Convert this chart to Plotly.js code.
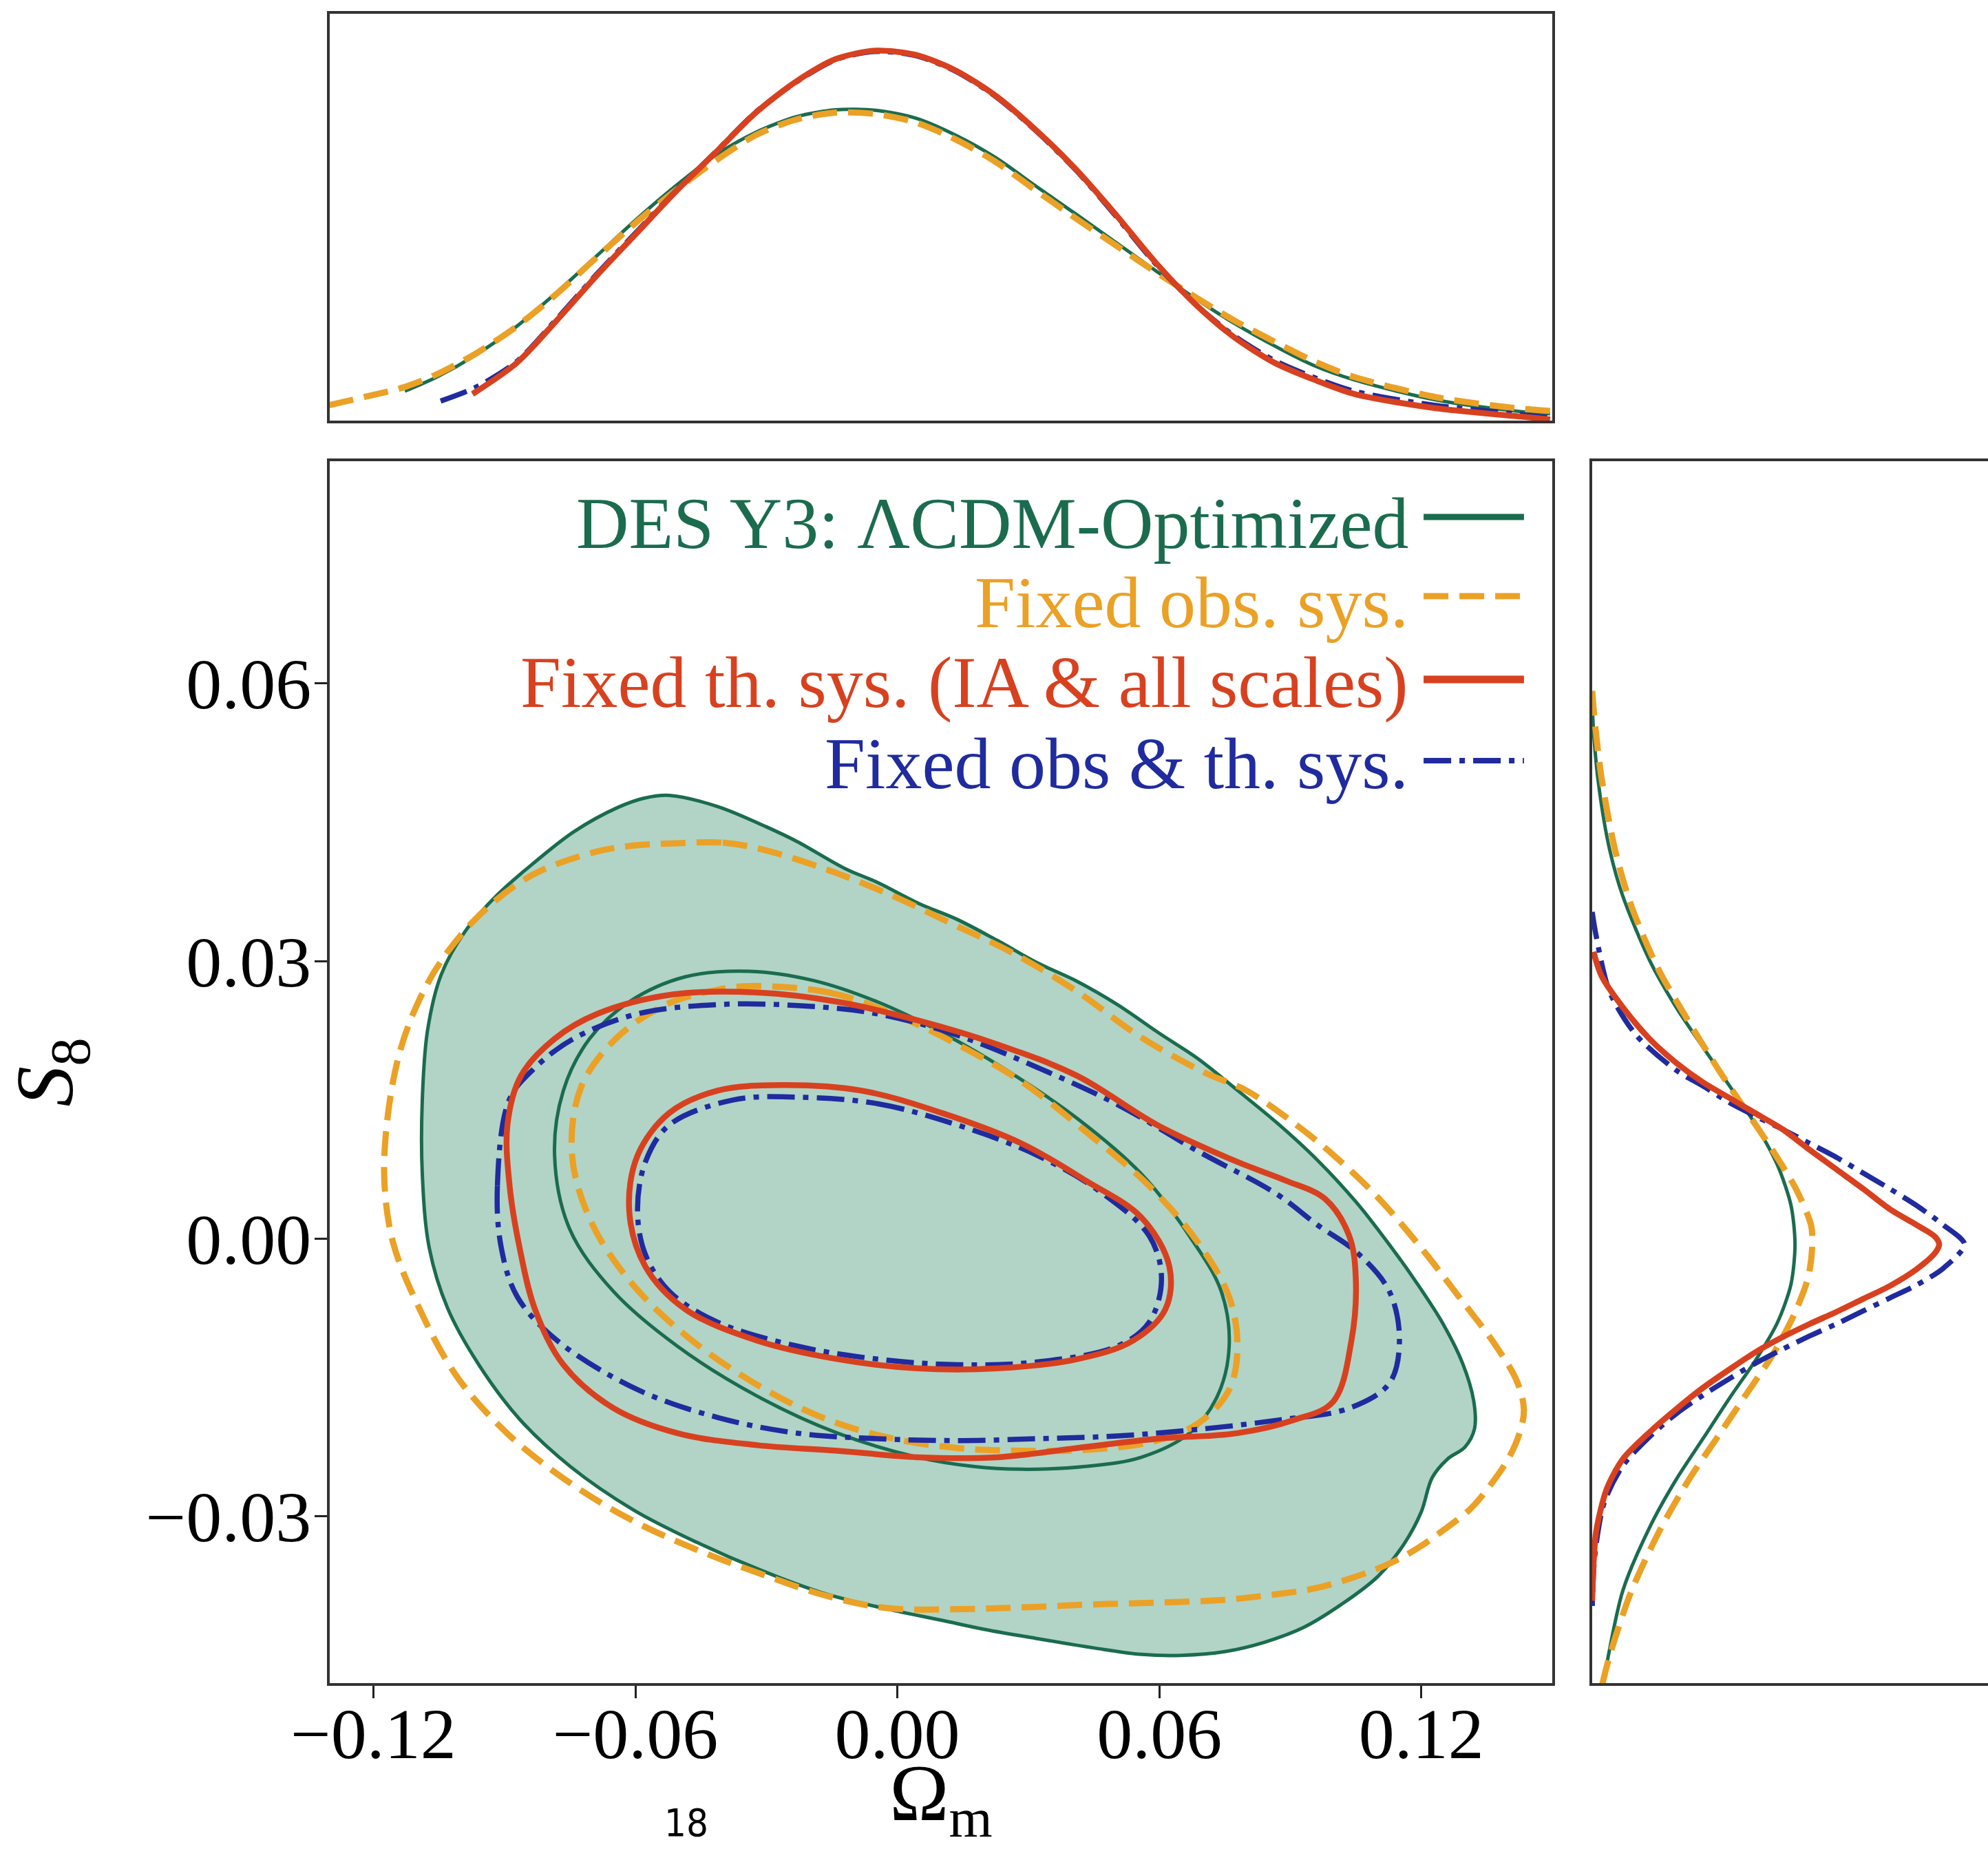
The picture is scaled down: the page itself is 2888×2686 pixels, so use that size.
<!DOCTYPE html>
<html>
<head>
<meta charset="utf-8">
<script src="https://cdn.plot.ly/plotly-3.0.1.min.js"></script>
<style>html,body{margin:0;padding:0;background:#fff;}</style>
</head>
<body>
<div id="chart" style="width:2888px;height:2686px;"></div>
<script>
// ---------- tick labels ----------
const xTickVals = [-0.12, -0.06, 0.00, 0.06, 0.12];
const xTickText = ['−0.12', '−0.06', '0.00', '0.06', '0.12'];
const yTickVals = [-0.03, 0.00, 0.03, 0.06];
const yTickText = ['−0.03', '0.00', '0.03', '0.06'];

// ---------- legend labels ----------
const seriesNames = ['DES Y3: ΛCDM-Optimized', 'Fixed obs. sys.', 'Fixed th. sys. (IA &amp; all scales)', 'Fixed obs &amp; th. sys.'];

// ---------- 2D contours (Omega_m, S8) ----------
// DES Y3 LCDM-Optimized, 95% (filled) and 68%
const desOuterX = [-0.0522,-0.0412,-0.0300,-0.0229,-0.0120,-0.0046,0.0050,0.0137,0.0230,0.0321,0.0412,0.0504,0.0600,0.0687,0.0780,0.0870,0.0962,0.1050,0.1120,0.1190,0.1250,0.1295,0.1320,0.1322,0.1300,0.1260,0.1225,0.1200,0.1160,0.1100,0.1017,0.0930,0.0840,0.0750,0.0650,0.0560,0.0450,0.0321,0.0200,0.0100,-0.0023,-0.0168,-0.0313,-0.0459,-0.0604,-0.0749,-0.0865,-0.0960,-0.1030,-0.1072,-0.1088,-0.1088,-0.1076,-0.1045,-0.0990,-0.0915,-0.0830,-0.0740,-0.0640,-0.0580];
const desOuterY = [0.0479,0.0467,0.0445,0.0429,0.0400,0.0385,0.0362,0.0345,0.0322,0.0298,0.0278,0.0253,0.0222,0.0195,0.0160,0.0125,0.0085,0.0040,-0.0002,-0.0048,-0.0092,-0.0135,-0.0175,-0.0205,-0.0225,-0.0238,-0.0258,-0.0295,-0.0330,-0.0365,-0.0395,-0.0420,-0.0436,-0.0446,-0.0450,-0.0449,-0.0442,-0.0432,-0.0422,-0.0412,-0.0400,-0.0383,-0.0358,-0.0328,-0.0293,-0.0246,-0.0195,-0.0135,-0.0075,-0.0010,0.0070,0.0150,0.0225,0.0285,0.0332,0.0372,0.0407,0.0440,0.0466,0.0476];
const desInnerX = [-0.0339,-0.0192,-0.0046,0.0101,0.0247,0.0412,0.0559,0.0669,0.0742,0.0760,0.0733,0.0669,0.0559,0.0431,0.0284,0.0174,0.0046,-0.0137,-0.0321,-0.0504,-0.0650,-0.0750,-0.0785,-0.0765,-0.0705,-0.0614,-0.0486];
const desInnerY = [0.0289,0.0279,0.0256,0.0223,0.0183,0.0130,0.0070,0.0003,-0.0057,-0.0116,-0.0170,-0.0210,-0.0236,-0.0246,-0.0249,-0.0246,-0.0236,-0.0210,-0.0170,-0.0116,-0.0057,0.0010,0.0090,0.0160,0.0216,0.0256,0.0283];

// Fixed obs. sys.
const obsOuterX = [-0.0517,-0.0400,-0.0313,-0.0168,-0.0023,0.0122,0.0267,0.0412,0.0557,0.0702,0.0800,0.0900,0.1000,0.1100,0.1200,0.1290,0.1370,0.1420,0.1435,0.1425,0.1400,0.1360,0.1312,0.1250,0.1196,0.1140,0.1080,0.0963,0.0850,0.0750,0.0600,0.0450,0.0300,0.0150,-0.0023,-0.0168,-0.0313,-0.0459,-0.0604,-0.0749,-0.0894,-0.1010,-0.1097,-0.1155,-0.1175,-0.1167,-0.1140,-0.1097,-0.1039,-0.0952,-0.0836,-0.0691,-0.0600];
const obsOuterY = [0.0427,0.0428,0.0421,0.0400,0.0373,0.0341,0.0308,0.0267,0.0218,0.0180,0.0160,0.0128,0.0090,0.0045,-0.0010,-0.0065,-0.0115,-0.0155,-0.0185,-0.0210,-0.0237,-0.0265,-0.0292,-0.0315,-0.0333,-0.0348,-0.0360,-0.0377,-0.0385,-0.0390,-0.0393,-0.0395,-0.0398,-0.0400,-0.0399,-0.0385,-0.0362,-0.0336,-0.0305,-0.0264,-0.0210,-0.0148,-0.0073,-0.0004,0.0064,0.0133,0.0201,0.0256,0.0304,0.0352,0.0393,0.0418,0.0425];
const obsInnerX = [-0.0339,-0.0156,-0.0009,0.0137,0.0284,0.0431,0.0577,0.0687,0.0760,0.0779,0.0760,0.0687,0.0577,0.0431,0.0284,0.0137,-0.0009,-0.0156,-0.0302,-0.0470,-0.0605,-0.0700,-0.0745,-0.0725,-0.0645,-0.0530,-0.0412];
const obsInnerY = [0.0273,0.0266,0.0243,0.0210,0.0170,0.0116,0.0057,-0.0003,-0.0063,-0.0116,-0.0163,-0.0200,-0.0220,-0.0228,-0.0229,-0.0226,-0.0216,-0.0196,-0.0163,-0.0110,-0.0050,0.0017,0.0090,0.0163,0.0216,0.0253,0.0269];

// Fixed th. sys. (IA & all scales)
const thOuterX = [-0.0513,-0.0321,-0.0137,0.0046,0.0229,0.0412,0.0595,0.0779,0.0889,0.0980,0.1035,0.1050,0.1040,0.0998,0.0907,0.0779,0.0595,0.0412,0.0229,0.0046,-0.0137,-0.0321,-0.0504,-0.0650,-0.0765,-0.0830,-0.0865,-0.0888,-0.0893,-0.0862,-0.0785,-0.0687];
const thOuterY = [0.0264,0.0266,0.0256,0.0236,0.0210,0.0176,0.0123,0.0083,0.0063,0.0043,0.0003,-0.0043,-0.0110,-0.0176,-0.0196,-0.0210,-0.0216,-0.0226,-0.0236,-0.0236,-0.0229,-0.0223,-0.0210,-0.0183,-0.0136,-0.0076,-0.0010,0.0057,0.0123,0.0176,0.0216,0.0243];
const thInnerX = [-0.0266,-0.0082,0.0101,0.0284,0.0431,0.0559,0.0623,0.0614,0.0540,0.0412,0.0229,0.0046,-0.0137,-0.0321,-0.0486,-0.0577,-0.0614,-0.0595,-0.0522,-0.0412];
const thInnerY = [0.0166,0.0160,0.0136,0.0103,0.0063,0.0023,-0.0030,-0.0076,-0.0110,-0.0130,-0.0140,-0.0140,-0.0130,-0.0110,-0.0076,-0.0030,0.0030,0.0090,0.0136,0.0160];

// Fixed obs & th. sys.
const bothOuterX = [-0.0889,-0.0916,-0.0907,-0.0870,-0.0779,-0.0595,-0.0412,-0.0229,-0.0046,0.0137,0.0321,0.0504,0.0687,0.0870,0.1035,0.1127,0.1150,0.1127,0.1053,0.0962,0.0870,0.0687,0.0504,0.0321,0.0137,-0.0046,-0.0229,-0.0412,-0.0595,-0.0742,-0.0834];
const bothOuterY = [0.0150,0.0057,-0.0010,-0.0063,-0.0110,-0.0163,-0.0193,-0.0210,-0.0216,-0.0218,-0.0216,-0.0213,-0.0206,-0.0196,-0.0183,-0.0156,-0.0110,-0.0057,-0.0015,0.0015,0.0048,0.0095,0.0145,0.0185,0.0220,0.0243,0.0252,0.0253,0.0243,0.0216,0.0183];
const bothInnerX = [-0.0229,-0.0046,0.0137,0.0321,0.0467,0.0577,0.0605,0.0577,0.0504,0.0321,0.0137,-0.0046,-0.0229,-0.0412,-0.0522,-0.0577,-0.0595,-0.0577,-0.0522,-0.0376];
const bothInnerY = [0.0153,0.0146,0.0123,0.0090,0.0050,0.0003,-0.0043,-0.0090,-0.0116,-0.0133,-0.0136,-0.0130,-0.0116,-0.0090,-0.0057,-0.0017,0.0030,0.0083,0.0123,0.0150];

// ---------- 1D marginals: Omega_m (top panel) ----------
const desTopX = [-0.1128,-0.1055,-0.0964,-0.0872,-0.0781,-0.0689,-0.0598,-0.0507,-0.0415,-0.0324,-0.0232,-0.0141,-0.0050,0.0042,0.0133,0.0225,0.0316,0.0408,0.0499,0.0590,0.0682,0.0773,0.0865,0.0956,0.1047,0.1230,0.1413,0.1495];
const desTopP = [0.0795,0.1176,0.1785,0.2546,0.3459,0.4448,0.5437,0.6351,0.7188,0.7796,0.8215,0.8405,0.8390,0.8177,0.7720,0.7112,0.6351,0.5590,0.4829,0.4068,0.3307,0.2622,0.2013,0.1480,0.1100,0.0567,0.0263,0.0187];
const obsTopX = [-0.1302,-0.1219,-0.1128,-0.1055,-0.0964,-0.0872,-0.0781,-0.0689,-0.0598,-0.0507,-0.0415,-0.0324,-0.0232,-0.0141,-0.0050,0.0042,0.0133,0.0225,0.0316,0.0408,0.0499,0.0590,0.0682,0.0773,0.0865,0.0956,0.1047,0.1230,0.1413,0.1495];
const obsTopP = [0.0415,0.0643,0.0910,0.1252,0.1823,0.2546,0.3421,0.4410,0.5361,0.6236,0.7036,0.7720,0.8139,0.8329,0.8291,0.8063,0.7606,0.6997,0.6236,0.5475,0.4752,0.4030,0.3345,0.2698,0.2127,0.1594,0.1176,0.0643,0.0339,0.0263];
const thTopX = [-0.0973,-0.0872,-0.0781,-0.0689,-0.0598,-0.0507,-0.0415,-0.0324,-0.0232,-0.0141,-0.0050,0.0042,0.0133,0.0225,0.0316,0.0408,0.0499,0.0590,0.0682,0.0773,0.0865,0.0956,0.1047,0.1230,0.1413,0.1495];
const thTopP = [0.0719,0.1557,0.2698,0.3915,0.5057,0.6198,0.7264,0.8329,0.9166,0.9775,1.0003,0.9889,0.9470,0.8786,0.7873,0.6807,0.5590,0.4296,0.3154,0.2241,0.1557,0.1100,0.0719,0.0339,0.0126,0.0035];
const bothTopX = [-0.1046,-0.0964,-0.0872,-0.0781,-0.0689,-0.0598,-0.0507,-0.0415,-0.0324,-0.0232,-0.0141,-0.0050,0.0042,0.0133,0.0225,0.0316,0.0408,0.0499,0.0590,0.0682,0.0773,0.0865,0.0956,0.1047,0.1230,0.1413,0.1495];
const bothTopP = [0.0529,0.0910,0.1595,0.2736,0.3953,0.5095,0.6213,0.7279,0.8344,0.9151,0.9760,0.9980,0.9866,0.9448,0.8763,0.7850,0.6784,0.5552,0.4258,0.3154,0.2279,0.1617,0.1161,0.0795,0.0415,0.0187,0.0073];

// ---------- 1D marginals: S8 (right panel) ----------
const desSideS = [0.0583,0.0549,0.0489,0.0421,0.0370,0.0301,0.0250,0.0207,0.0165,0.0122,0.0079,0.0036,-0.0006,-0.0049,-0.0090,-0.0130,-0.0172,-0.0216,-0.0260,-0.0312,-0.0380,-0.0459,-0.0485];
const desSideP = [0.0000,0.0035,0.0180,0.0469,0.0831,0.1553,0.2276,0.3000,0.3722,0.4445,0.5024,0.5385,0.5493,0.5385,0.5024,0.4445,0.3722,0.3000,0.2276,0.1553,0.0831,0.0397,0.0289];
const obsSideS = [0.0592,0.0558,0.0498,0.0421,0.0361,0.0293,0.0233,0.0182,0.0139,0.0096,0.0053,0.0015,-0.0006,-0.0041,-0.0083,-0.0126,-0.0169,-0.0212,-0.0259,-0.0314,-0.0382,-0.0451,-0.0485];
const obsSideP = [0.0000,0.0072,0.0252,0.0614,0.1048,0.1770,0.2638,0.3433,0.4156,0.4879,0.5530,0.5927,0.5963,0.5855,0.5457,0.4879,0.4156,0.3433,0.2638,0.1843,0.1048,0.0469,0.0252];
const thSideS = [0.0310,0.0284,0.0250,0.0216,0.0190,0.0169,0.0152,0.0135,0.0118,0.0096,0.0075,0.0054,0.0032,0.0015,0.0002,-0.0006,-0.0015,-0.0033,-0.0051,-0.0065,-0.0079,-0.0092,-0.0106,-0.0122,-0.0141,-0.0161,-0.0184,-0.0209,-0.0238,-0.0270,-0.0316,-0.0365,-0.0391];
const thSideP = [0.0035,0.0252,0.0831,0.1553,0.2276,0.3000,0.3722,0.4445,0.5168,0.5891,0.6614,0.7337,0.8060,0.8783,0.9291,0.9397,0.9291,0.8783,0.8060,0.7337,0.6614,0.5891,0.5168,0.4445,0.3722,0.3000,0.2276,0.1553,0.0831,0.0397,0.0108,0.0021,0.0000];
const bothSideS = [0.0353,0.0327,0.0267,0.0220,0.0182,0.0165,0.0147,0.0132,0.0118,0.0103,0.0088,0.0071,0.0054,0.0036,0.0015,-0.0006,-0.0032,-0.0050,-0.0064,-0.0078,-0.0092,-0.0105,-0.0119,-0.0134,-0.0151,-0.0169,-0.0189,-0.0214,-0.0245,-0.0285,-0.0342,-0.0400];
const bothSideP = [0.0000,0.0108,0.0469,0.1192,0.2276,0.3000,0.3722,0.4445,0.5168,0.5891,0.6614,0.7337,0.8060,0.8783,0.9506,1.0084,0.9506,0.8783,0.8060,0.7337,0.6614,0.5891,0.5168,0.4445,0.3722,0.3000,0.2276,0.1553,0.0831,0.0325,0.0072,0.0000];

// ---------- styles ----------
const GREEN = '#1b6c4f', GREEN_FILL = '#b1d4c7';
const ORANGE = '#eba126', RED = '#d8411f', BLUE = '#1f2b9e';
const DASH = '36px,16px';
const DASHDOT = '40px,12px,8px,12px';
const SERIF = 'Liberation Serif, Times New Roman, serif';
const SANS_NARROW = 'Liberation Sans Narrow, DejaVu Sans Condensed, Liberation Sans, Arial, sans-serif';

function closed(a) { return a.concat([a[0]]); }

function contour(xs, ys, color, width, dash, fill) {
  const t = {
    type: 'scatter', mode: 'lines', x: closed(xs), y: closed(ys),
    xaxis: 'x', yaxis: 'y', hoverinfo: 'skip', showlegend: false,
    line: {color: color, width: width, dash: dash || 'solid', shape: 'spline', smoothing: 1}
  };
  if (fill) { t.fill = 'toself'; t.fillcolor = fill; }
  return t;
}
function topCurve(xs, ps, color, width, dash) {
  return {type: 'scatter', mode: 'lines', x: xs, y: ps, xaxis: 'x2', yaxis: 'y2',
    hoverinfo: 'skip', showlegend: false,
    line: {color: color, width: width, dash: dash || 'solid', shape: 'spline', smoothing: 0.8}};
}
function sideCurve(ss, ps, color, width, dash) {
  return {type: 'scatter', mode: 'lines', x: ps, y: ss, xaxis: 'x3', yaxis: 'y3',
    hoverinfo: 'skip', showlegend: false,
    line: {color: color, width: width, dash: dash || 'solid', shape: 'spline', smoothing: 0.8}};
}

const traces = [
  contour(desOuterX, desOuterY, GREEN, 5, 'solid', GREEN_FILL),
  contour(desInnerX, desInnerY, GREEN, 5, 'solid'),
  contour(obsOuterX, obsOuterY, ORANGE, 9, DASH),
  contour(obsInnerX, obsInnerY, ORANGE, 9, DASH),
  contour(bothOuterX, bothOuterY, BLUE, 7.5, DASHDOT),
  contour(bothInnerX, bothInnerY, BLUE, 7.5, DASHDOT),
  contour(thOuterX, thOuterY, RED, 8.5, 'solid'),
  contour(thInnerX, thInnerY, RED, 8.5, 'solid'),

  topCurve(desTopX, desTopP, GREEN, 5),
  topCurve(obsTopX, obsTopP, ORANGE, 9, DASH),
  topCurve(bothTopX, bothTopP, BLUE, 7.5, DASHDOT),
  topCurve(thTopX, thTopP, RED, 8.5),

  sideCurve(desSideS, desSideP, GREEN, 5),
  sideCurve(obsSideS, obsSideP, ORANGE, 9, DASH),
  sideCurve(bothSideS, bothSideP, BLUE, 7.5, DASHDOT),
  sideCurve(thSideS, thSideP, RED, 8.5)
];

const frame = {showline: true, mirror: true, linecolor: '#333', linewidth: 4,
  showgrid: false, zeroline: false};

// legend built from annotations + sample lines (text right-aligned, sample on the right)
const legendColors = [GREEN, ORANGE, RED, BLUE];
const legendDash = ['solid', DASH, 'solid', DASHDOT];
const legendWidth = [9, 9, 11, 8];
const legendTextY = [0.7170, 0.6739, 0.6307, 0.5868];
const legendLineY = [0.7204, 0.6776, 0.6325, 0.5886];

const annotations = seriesNames.map((name, i) => ({
  text: name, xref: 'paper', yref: 'paper', x: 0.7091, y: legendTextY[i],
  xanchor: 'right', yanchor: 'middle', showarrow: false,
  font: {family: SERIF, size: 106, color: legendColors[i]}
}));
annotations.push({
  text: '18', xref: 'paper', yref: 'paper', x: 0.3452, y: 0.0145,
  xanchor: 'center', yanchor: 'middle', showarrow: false,
  font: {family: SANS_NARROW, size: 56, color: '#000'}
});

const shapes = legendColors.map((c, i) => ({
  type: 'line', xref: 'paper', yref: 'paper', x0: 0.7161, x1: 0.7666,
  y0: legendLineY[i], y1: legendLineY[i],
  line: {color: c, width: legendWidth[i], dash: legendDash[i]}
}));

const layout = {
  width: 2888, height: 2686,
  margin: {l: 0, r: 0, t: 0, b: 0, pad: 0},
  paper_bgcolor: '#fff', plot_bgcolor: '#fff',
  showlegend: false,
  font: {family: SERIF, color: '#000'},
  xaxis: Object.assign({}, frame, {
    domain: [0.16586, 0.78082], anchor: 'y', range: [-0.13, 0.15],
    tickmode: 'array', tickvals: xTickVals, ticktext: xTickText,
    ticks: 'outside', ticklen: 18, tickwidth: 3, tickcolor: '#222',
    ticklabelstandoff: -38,
    tickfont: {family: SERIF, size: 104, color: '#000'},
    title: {text: 'Ω<sub>m</sub>', font: {family: SERIF, size: 116, color: '#000'}, standoff: 0}
  }),
  yaxis: Object.assign({}, frame, {
    domain: [0.08973, 0.75056], anchor: 'x', range: [-0.048, 0.084],
    tickmode: 'array', tickvals: yTickVals, ticktext: yTickText,
    ticks: 'outside', ticklen: 18, tickwidth: 3, tickcolor: '#222',
    ticklabelstandoff: -16,
    tickfont: {family: SERIF, size: 104, color: '#000'},
    title: {text: '<i>S</i><sub>8</sub>', font: {family: SERIF, size: 118, color: '#000'}, standoff: 110}
  }),
  xaxis2: Object.assign({}, frame, {
    domain: [0.16586, 0.78082], anchor: 'y2', matches: 'x',
    showticklabels: false, ticks: ''
  }),
  yaxis2: Object.assign({}, frame, {
    domain: [0.77252, 0.99255], anchor: 'x2', range: [0, 1.1],
    showticklabels: false, ticks: ''
  }),
  xaxis3: Object.assign({}, frame, {
    domain: [0.80090, 1.0], anchor: 'y3', range: [0, 1.072],
    showticklabels: false, ticks: ''
  }),
  yaxis3: Object.assign({}, frame, {
    domain: [0.08973, 0.75056], anchor: 'x3', matches: 'y',
    showticklabels: false, ticks: ''
  }),
  annotations: annotations,
  shapes: shapes
};

Plotly.newPlot('chart', traces, layout, {staticPlot: true, displayModeBar: false});
</script>
</body>
</html>
